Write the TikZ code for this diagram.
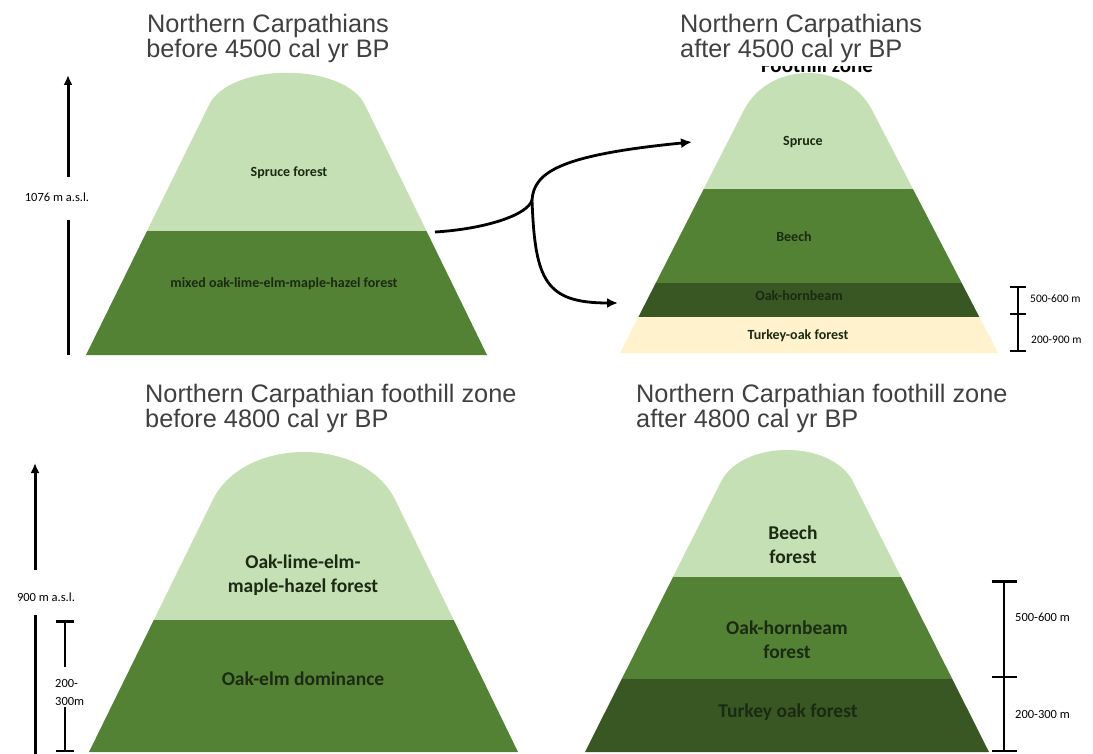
\documentclass[tikz,border=0pt]{standalone}
\usepackage{fontspec}
\setmainfont{Liberation Sans}
\newfontfamily\calibri{Carlito}
\usetikzlibrary{arrows.meta}
\definecolor{sprucegreen}{HTML}{C5E0B4}
\definecolor{beechgreen}{HTML}{548235}
\definecolor{oakgreen}{HTML}{385723}
\definecolor{turkeycream}{HTML}{FFF2CC}
\definecolor{titlegray}{HTML}{404040}
\definecolor{labelink}{HTML}{1B2A12}
\begin{document}
\begin{tikzpicture}[x=1pt,y=-1pt,
    heading/.style={inner sep=0pt,text=titlegray,font=\fontsize{25.3}{25}\selectfont},
    zone/.style={inner sep=0pt,text=labelink,align=center,font=\calibri\bfseries\fontsize{14}{16}\selectfont},
    bigzone/.style={zone,font=\calibri\bfseries\fontsize{19.5}{24}\selectfont},
    altlabel/.style={inner sep=0pt,align=left,font=\calibri\fontsize{12.5}{18}\selectfont},
    heightaxis/.style={line width=3pt},
    scalebar/.style={line width=2.5pt},
    trend/.style={line width=2.8pt,-{Latex[length=11pt,width=10pt]}}]
    \useasboundingbox[fill=white] (0,0) rectangle (1093,754);
    %before 4500
    \begin{scope}
        \clip (86,355) -- (209,105) .. controls (230,62) and (344,62) .. (365,105) -- (487,355) -- cycle;
        \fill[sprucegreen] (80,60) rectangle (495,231);
        \fill[beechgreen] (80,231) rectangle (495,356);
    \end{scope}
    %after 4500
    \begin{scope}
        \clip (620,353) -- (744,110) .. controls (769.5,60.7) and (846.5,60.7) .. (872,110) -- (998,353) -- cycle;
        \fill[sprucegreen] (610,60) rectangle (1005,189);
        \fill[beechgreen] (610,189) rectangle (1005,283);
        \fill[oakgreen] (610,283) rectangle (1005,317);
        \fill[turkeycream] (610,317) rectangle (1005,354);
    \end{scope}
    %foothill before 4800
    \begin{scope}
        \clip (89,752) -- (212.7,500) .. controls (244,436) and (364,436) .. (395.3,500) -- (518,752) -- cycle;
        \fill[sprucegreen] (80,440) rectangle (525,620);
        \fill[beechgreen] (80,620) rectangle (525,754);
    \end{scope}
    %foothill after 4800
    \begin{scope}
        \clip (585,752) -- (720.8,482) .. controls (742.3,439.3) and (831.7,439.3) .. (853.2,482) -- (989,752) -- cycle;
        \fill[sprucegreen] (580,440) rectangle (995,577);
        \fill[beechgreen] (580,577) rectangle (995,679);
        \fill[oakgreen] (580,679) rectangle (995,754);
    \end{scope}

    %titles
    \node[heading,align=center,anchor=north] (tlTitle) at (268,13.5) {Northern Carpathians\\before 4500 cal yr BP};
    \node[heading,align=left,anchor=north west] (trTitle) at (680,13.5) {Northern Carpathians\\after 4500 cal yr BP};
    \node[heading,align=left,anchor=north west] (blTitle) at (145,383.5) {Northern Carpathian foothill zone\\before 4800 cal yr BP};
    \node[heading,align=left,anchor=north west] (brTitle) at (636,383.5) {Northern Carpathian foothill zone\\after 4800 cal yr BP};
    %half hidden under the title
    \begin{scope}
        \clip (700,66.5) rectangle (930,80);
        \node[inner sep=0pt,anchor=base,font=\calibri\bfseries\fontsize{21}{21}\selectfont] (trHidden) at (817,73) {Foothill zone};
    \end{scope}

    %zone labels
    \node[zone] (tlSpruce) at (289,173) {Spruce forest};
    \node[zone] (tlMixed) at (284,284) {mixed oak-lime-elm-maple-hazel forest};
    \node[zone] (trSpruce) at (803,142) {Spruce};
    \node[zone] (trBeech) at (794,237) {Beech};
    \node[zone] (trOakHorn) at (799,296) {Oak-hornbeam};
    \node[zone] (trTurkey) at (798,336) {Turkey-oak forest};
    \node[bigzone] (blOakLime) at (303,575) {Oak-lime-elm-\\maple-hazel forest};
    \node[bigzone] (blOakElm) at (303,679) {Oak-elm dominance};
    \node[bigzone] (brBeech) at (793,545) {Beech\\forest};
    \node[bigzone] (brOakHorn) at (787,640) {Oak-hornbeam\\forest};
    \node[bigzone] (brTurkey) at (788,712) {Turkey oak forest};

    %altitude axes
    \node[altlabel] (tlAlt) at (57,197) {1076 m a.s.l.};
    \coordinate (tlTop) at (68,75);
    \coordinate (tlGapHi) at (68,177);
    \coordinate (tlGapLo) at (68,220);
    \coordinate (tlFoot) at (68,355);
    \draw[heightaxis,-{Latex[length=10pt,width=9pt]}] (tlGapHi) -- (tlTop);
    \draw[heightaxis] (tlGapLo) -- (tlFoot);
    \node[altlabel] (blAlt) at (46,597) {900 m a.s.l.};
    \coordinate (blTop) at (35,463);
    \coordinate (blGapHi) at (35,570);
    \coordinate (blGapLo) at (35,615);
    \coordinate (blFoot) at (35,754);
    \draw[heightaxis,-{Latex[length=10pt,width=9pt]}] (blGapHi) -- (blTop);
    \draw[heightaxis] (blGapLo) -- (blFoot);

    %scale bars
    \node[altlabel,anchor=west] (blRange) at (55,692) {200-\\300m};
    \coordinate (blBarTop) at (65,620);
    \coordinate (blBarHi) at (65,667);
    \coordinate (blBarLo) at (65,707);
    \coordinate (blBarFoot) at (65,752);
    \draw[scalebar,arrows={Bar[width=18pt]-}] (blBarTop) -- (blBarHi);
    \draw[scalebar,arrows={-Bar[width=18pt]}] (blBarLo) -- (blBarFoot);

    \coordinate (trBarTop) at (1018,286);
    \coordinate (trBarMid) at (1018,315);
    \coordinate (trBarFoot) at (1018,352);
    \draw[scalebar,arrows={Bar[width=16pt]-Bar[width=16pt]}] (trBarTop) -- (trBarMid);
    \draw[scalebar,arrows={-Bar[width=16pt]}] (trBarMid) -- (trBarFoot);
    \node[altlabel,anchor=west,font=\calibri\fontsize{11.5}{14}\selectfont] (trUpper) at (1030,299) {500-600 m};
    \node[altlabel,anchor=west,font=\calibri\fontsize{11.5}{14}\selectfont] (trLower) at (1031,340) {200-900 m};

    \coordinate (brBarTop) at (1004,580);
    \coordinate (brBarMid) at (1004,678);
    \coordinate (brBarFoot) at (1004,752);
    \draw[scalebar,arrows={Bar[width=25pt]-Bar[width=25pt]}] (brBarTop) -- (brBarMid);
    \draw[scalebar,arrows={-Bar[width=25pt]}] (brBarMid) -- (brBarFoot);
    \node[altlabel,anchor=west] (brUpper) at (1015,617) {500-600 m};
    \node[altlabel,anchor=west] (brLower) at (1015,714) {200-300 m};

    %shift of the belts
    \coordinate (src) at (435,232);
    \coordinate (fork) at (532,200);
    \coordinate (toSpruce) at (692,142);
    \coordinate (toOak) at (618,303);
    \draw[trend] (src) .. controls (485,229) and (528,215) .. (fork)
        .. controls (534,172) and (560,155) .. (toSpruce);
    \draw[trend] (fork) .. controls (535,280) and (545,303) .. (toOak);
\end{tikzpicture}
\end{document}
